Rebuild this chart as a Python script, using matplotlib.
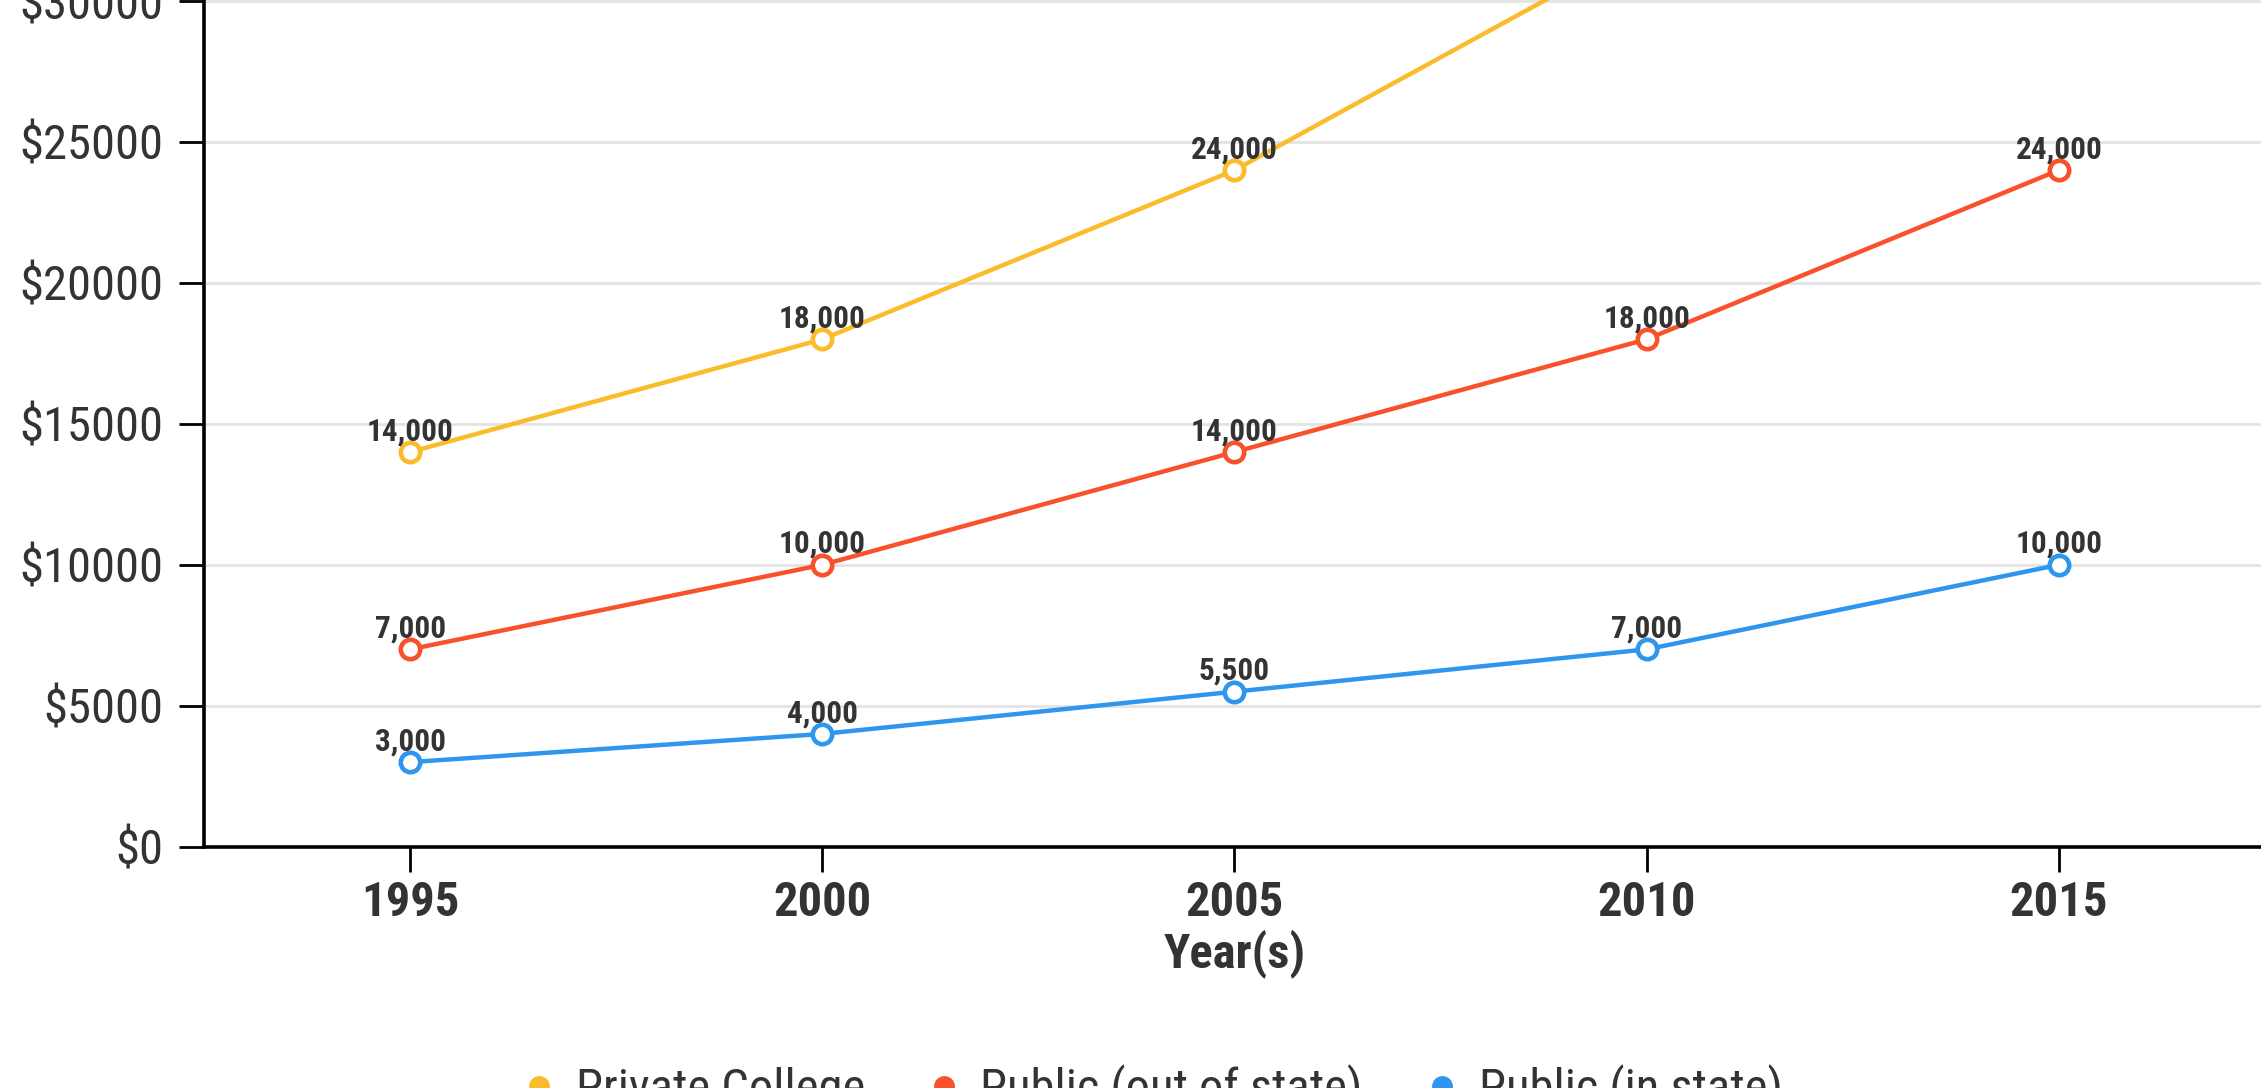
import matplotlib
matplotlib.use("Agg")
import matplotlib.pyplot as plt
from matplotlib.lines import Line2D
from matplotlib.ticker import FuncFormatter, MultipleLocator

plt.rcParams["font.family"] = ["Roboto Condensed", "Liberation Sans Narrow", "DejaVu Sans"]

years = [1995, 2000, 2005, 2010, 2015]
private_college = [14000, 18000, 24000, 32000, 42000]
public_out_of_state = [7000, 10000, 14000, 18000, 24000]
public_in_state = [3000, 4000, 5500, 7000, 10000]

series = [
    ("Private College", private_college, "#FBBC2C"),
    ("Public (out of state)", public_out_of_state, "#F8512B"),
    ("Public (in state)", public_in_state, "#2F96EE"),
]

TEXT = "#333333"
W, H, DPI = 2261, 1088, 100

fig = plt.figure(figsize=(W / DPI, H / DPI), dpi=DPI, facecolor="white")

# axes runs past the top of the canvas, like the cropped original
px_per_5k = 140.95
y_top = 45000
left, bottom = 204 / W, (H - 846.7) / H
ax = fig.add_axes([left, bottom, (2265 - 204) / W, (y_top / 5000) * px_per_5k / H])

for name, vals, color in series:
    ax.plot(years, vals, color=color, linewidth=3.2, marker="o", markersize=14,
            markerfacecolor="white", markeredgecolor=color, markeredgewidth=3.3,
            zorder=3, clip_on=False)
    for x, v in zip(years, vals):
        ax.annotate(f"{v:,}", (x, v), xytext=(0, 8.5), textcoords="offset points",
                    ha="center", va="baseline", fontsize=22.5, fontweight="bold",
                    color=TEXT, zorder=4)

ax.set_xlim(1992.5, 2017.5)
ax.set_ylim(0, y_top)
ax.set_xticks(years)
ax.yaxis.set_major_locator(MultipleLocator(5000))
ax.yaxis.set_major_formatter(FuncFormatter(lambda v, _: f"${int(v)}"))

ax.grid(axis="y", color="#e3e3e3", linewidth=2)
ax.set_axisbelow(True)
for side in ("top", "right"):
    ax.spines[side].set_visible(False)
for side in ("left", "bottom"):
    ax.spines[side].set_linewidth(2.6)
    ax.spines[side].set_color("black")

ax.tick_params(axis="y", length=18, width=2, pad=11, labelsize=35, labelcolor=TEXT)
ax.tick_params(axis="x", length=18, width=2, pad=6, labelsize=35, labelcolor=TEXT)
for lbl in ax.get_xticklabels():
    lbl.set_fontweight("bold")

ax.set_xlabel("Year(s)", fontsize=35, fontweight="bold", color=TEXT, labelpad=2)

handles = [Line2D([], [], linestyle="none", marker="o", markersize=14,
                  markerfacecolor=c, markeredgecolor=c) for _, _, c in series]
fig.legend(handles, [n for n, _, _ in series], loc="upper center",
           bbox_to_anchor=(0.508, (H - 1064) / H), ncol=3, frameon=False,
           fontsize=35, labelcolor=TEXT, handlelength=1.0, handletextpad=0.25,
           columnspacing=1.13, borderaxespad=0, borderpad=0)

fig.savefig("out.png", dpi=DPI, facecolor="white")
